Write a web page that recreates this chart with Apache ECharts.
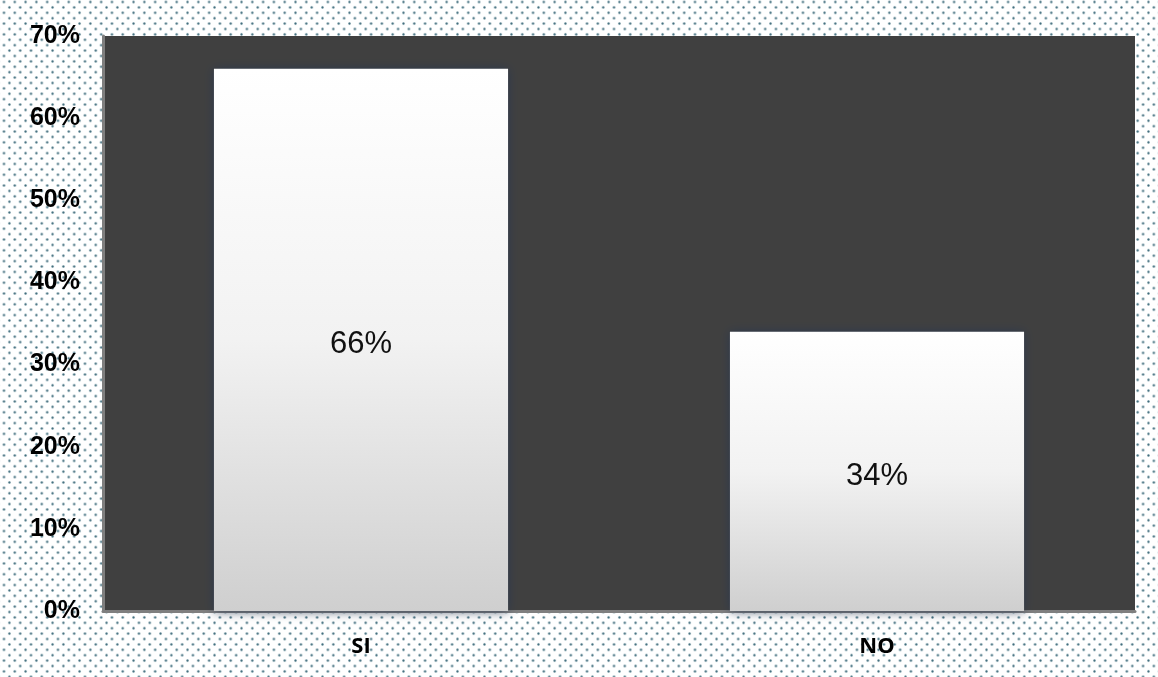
<!DOCTYPE html>
<html><head><meta charset="utf-8">
<script src="https://cdn.jsdelivr.net/npm/echarts@6/dist/echarts.min.js"></script>
<style>
html,body{margin:0;padding:0;background:#fff;}
#c{width:1158px;height:677px;
background-image:radial-gradient(circle, rgba(60,105,120,1) 0.6px, rgba(80,125,140,0.5) 1.2px, transparent 1.6px),radial-gradient(circle, rgba(60,105,120,1) 0.6px, rgba(80,125,140,0.5) 1.2px, transparent 1.6px);
background-size:10.8px 10.8px;background-position:4px 2px,9.4px 7.4px;}
</style></head><body>
<div id="c"></div>
<script>
const categories = ['SI', 'NO'];
const values = [0.66, 0.34];
const yTicks = [0, 0.1, 0.2, 0.3, 0.4, 0.5, 0.6, 0.7];

const chart = echarts.init(document.getElementById('c'));
chart.setOption({
  animation: false,
  grid: {left: 103, right: 23, top: 36, bottom: 66, backgroundColor: '#404040', show: true, borderWidth: 0},
  xAxis: {
    type: 'category', data: categories,
    axisLine: {show: true, lineStyle: {color: '#7f7f7f', width: 3}},
    axisTick: {show: false},
    axisLabel: {fontFamily: 'Open Sans', fontWeight: 'bold', fontSize: 22, color: '#000', margin: 25}
  },
  yAxis: {
    type: 'value', min: 0, max: 0.7, interval: 0.1,
    axisLine: {show: true, lineStyle: {color: '#7f7f7f', width: 3}},
    axisTick: {show: false},
    splitLine: {show: false},
    axisLabel: {fontFamily: 'Liberation Sans', fontWeight: 'bold', fontSize: 25, color: '#000', margin: 23,
      formatter: v => Math.round(v * 100) + '%'}
  },
  series: [{
    type: 'bar', data: values, barWidth: '57%',
    itemStyle: {
      color: new echarts.graphic.LinearGradient(0, 0, 0, 1, [
        {offset: 0, color: '#ffffff'}, {offset: 0.5, color: '#f2f2f2'}, {offset: 1, color: '#cfcfcf'}]),
      shadowColor: 'rgba(40,55,80,0.9)', shadowBlur: 10, shadowOffsetX: 0, shadowOffsetY: 0
    },
    label: {show: true, position: 'inside', offset: [0, 5], fontFamily: 'Liberation Sans', fontSize: 31, color: '#111',
      formatter: p => Math.round(p.value * 100) + '%'}
  }]
});
</script>
</body></html>
